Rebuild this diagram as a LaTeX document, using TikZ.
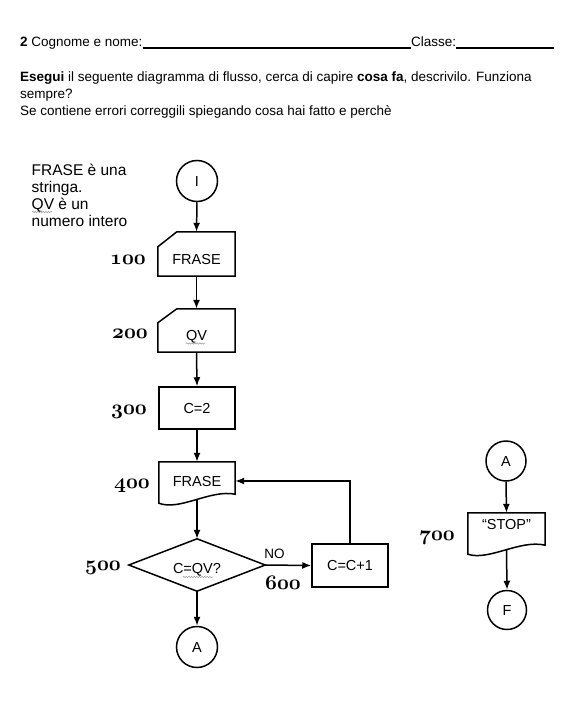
\documentclass[tikz,border=0pt]{standalone}
\usepackage{fontspec}
\setmainfont{Liberation Sans}
\usetikzlibrary{arrows.meta,positioning,calc,decorations.pathmorphing}

\tikzset{
  outline/.style={line width=1.5pt},
  flow/.style={line width=1.5pt,-{Latex[length=9pt,width=7pt]}},
  flowtext/.style={font=\fontsize{14.5}{17}\selectfont,text height=10.4pt,text depth=0pt},
  term/.style={circle,draw,line width=1.5pt,minimum size=41pt,inner sep=0pt,flowtext},
  procbox/.style={draw,line width=1.5pt,minimum width=76pt,minimum height=43pt,inner sep=0pt,flowtext},
  shapeonly/.style={minimum width=77pt,inner sep=0pt,flowtext},
  stepno/.style={font=\fontsize{20.74}{24}\usefont{OML}{cmm}{b}{it},anchor=mid,inner sep=0pt,yshift=-3pt},
  spellmark/.style={gray!80,line width=0.5pt,decorate,decoration={snake,amplitude=0.7pt,segment length=2.6pt}},
  plain/.style={inner sep=0pt,font=\fontsize{13.5}{17}\selectfont}
}

\begin{document}
\begin{tikzpicture}[x=1pt,y=-1pt]
  \useasboundingbox (0,0) rectangle (582,722);
  % header
  \node[plain,anchor=base west] (head) at (20,46.5) {\textbf{2} Cognome e nome:};
  \node[plain,anchor=base west] (klass) at (411,46.5) {Classe:};
  \coordinate (klassend) at (554,48);
  \draw[line width=1.5pt] ([yshift=-1.5pt]head.base east) -- ([yshift=-1.5pt]klass.base west);
  \draw[line width=1.5pt] ([yshift=-1.5pt]klass.base east) -- (klassend);
  \node[plain,anchor=north west,align=left] (task) at (20,72)
    {\textbf{Esegui} il seguente diagramma di flusso, cerca di capire \textbf{cosa fa}, descrivilo. Funziona\\
     sempre?\\
     Se contiene errori correggili spiegando cosa hai fatto e perchè};
  % note on the variables
  \node[inner sep=0pt,anchor=north west,align=left,font=\fontsize{15.5}{17}\selectfont] (note) at (31.5,164)
    {FRASE è una\\stringa.\\QV è un\\numero intero};
  \draw[spellmark] (32,212) -- (52,212);

  % main flow
  \node[term] (start) at (197,181) {I};
  \node[shapeonly,minimum height=44pt,text height=20.4pt] (readfrase) at (196.5,254) {FRASE};
  \draw[outline] (readfrase.south west) -- (readfrase.south east) -- (readfrase.north east)
    -- ([xshift=19pt]readfrase.north west) -- ([yshift=-15pt]readfrase.north west) -- cycle;
  \node[shapeonly,minimum height=43pt,text height=19.4pt] (readqv) at (196.5,330.5) {QV};
  \draw[outline] (readqv.south west) -- (readqv.south east) -- (readqv.north east)
    -- ([xshift=19pt]readqv.north west) -- ([yshift=-14pt]readqv.north west) -- cycle;
  \draw[spellmark] (186,343.5) -- (205,343.5);
  \node[procbox,minimum height=42pt] (setc) at (197,408) {C=2};
  \node[shapeonly,minimum width=76pt,minimum height=38pt] (showfrase) at (197,481) {FRASE};
  \draw[outline] ([yshift=6pt]showfrase.south east)
    .. controls ([shift={(-25pt,11pt)}]showfrase.south east) and ([shift={(21pt,-11pt)}]showfrase.south west)
    .. ([yshift=-3pt]showfrase.south west) -- (showfrase.north west) -- (showfrase.north east) -- cycle;
  \node[shapeonly,minimum width=136pt,minimum height=52pt,text height=16.4pt] (check) at (197,565) {C=QV?};
  \draw[outline] (check.west) -- (check.north) -- (check.east) -- (check.south) -- cycle;
  \draw[spellmark] (183,577) -- (213,577);
  \node[procbox] (incc) at (350,565.5) {C=C+1};
  \node[term] (endA) at (197,647) {A};

  \draw[flow] (start.south) -- (readfrase.north);
  \draw[flow] (readfrase.south) -- (readqv.north);
  \draw[flow] (readqv.south) -- (setc.north);
  \draw[flow] (setc.south) -- (showfrase.north);
  \draw[flow] (showfrase.south) -- (check.north);
  \draw[flow] (check.east) -- node[pos=0.2,above=6pt,inner sep=0pt,font=\fontsize{13.5}{16}\selectfont] (no) {NO} (incc.west);
  \draw[flow] (incc.north) |- (showfrase.east);
  \draw[flow] (check.south) -- (endA.north);

  % step numbers
  \node[stepno] (n100) at (128,259) {100};
  \node[stepno] (n200) at (130,333) {200};
  \node[stepno] (n300) at (129,409) {300};
  \node[stepno] (n400) at (132,483) {400};
  \node[stepno] (n500) at (103,565) {500};
  \node[stepno] (n600) at (283,584) {600};
  \node[stepno] (n700) at (437,535) {700};

  % end part
  \node[term,minimum size=40pt] (contA) at (506,461) {A};
  \node[shapeonly,minimum height=37pt,text depth=15pt] (stop) at (506.5,531.5) {“STOP”};
  \draw[outline] ([yshift=5pt]stop.south east)
    .. controls ([shift={(-25pt,11pt)}]stop.south east) and ([shift={(21pt,-11pt)}]stop.south west)
    .. ([yshift=-4pt]stop.south west) -- (stop.north west) -- (stop.north east) -- cycle;
  \node[term,minimum size=39pt] (finish) at (507,610) {F};
  \draw[flow] (contA.south) -- (stop.north);
  \draw[flow] (stop.south) -- (finish.north);
\end{tikzpicture}
\end{document}
